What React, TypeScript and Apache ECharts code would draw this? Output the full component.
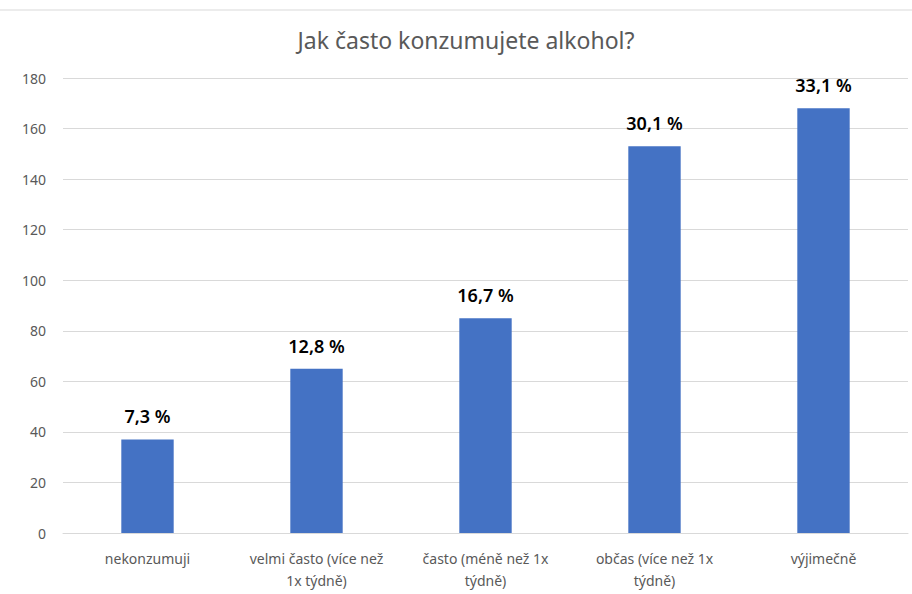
import React, { useEffect, useRef } from "react";
import * as echarts from "echarts";

const title = "Jak často konzumujete alkohol?";
const categories = [
  "nekonzumuji",
  "velmi často (více než\n1x týdně)",
  "často (méně než 1x\ntýdně)",
  "občas (více než 1x\ntýdně)",
  "výjimečně",
];
const counts = [37, 65, 85, 153, 168];
const percentLabels = ["7,3 %", "12,8 %", "16,7 %", "30,1 %", "33,1 %"];
const yMin = 0;
const yMax = 180;
const yInterval = 20;

const FONT = "'Noto Sans', 'DejaVu Sans', sans-serif";

export default function App() {
  const ref = useRef<HTMLDivElement>(null);
  useEffect(() => {
    if (!ref.current) return;
    const chart = echarts.init(ref.current, undefined, { renderer: "svg" });
    chart.setOption({
      animation: false,
      backgroundColor: "#ffffff",
      textStyle: { fontFamily: FONT },
      graphic: [
        {
          type: "line",
          shape: { x1: 0, y1: 10, x2: 912, y2: 10 },
          style: { stroke: "#d9d9d9", lineWidth: 1 },
        },
        {
          type: "text",
          x: 466,
          y: 40,
          style: {
            text: title,
            fill: "#595959",
            font: `23px ${FONT}`,
            textAlign: "center",
            textVerticalAlign: "middle",
          },
        },
      ],
      grid: { left: 63, right: 4, top: 78, bottom: 61, containLabel: false },
      xAxis: {
        type: "category",
        data: categories,
        axisLine: { show: true, lineStyle: { color: "#d9d9d9", width: 1 } },
        axisTick: { show: false },
        axisLabel: {
          color: "#595959",
          fontSize: 14,
          fontFamily: FONT,
          lineHeight: 22,
          margin: 14,
          interval: 0,
        },
      },
      yAxis: {
        type: "value",
        min: yMin,
        max: yMax,
        interval: yInterval,
        axisLine: { show: false },
        axisTick: { show: false },
        splitLine: { lineStyle: { color: "#d9d9d9", width: 1 } },
        axisLabel: {
          color: "#595959",
          fontSize: 14,
          fontFamily: FONT,
          margin: 17,
        },
      },
      series: [
        {
          type: "bar",
          data: counts,
          barWidth: "31%",
          itemStyle: { color: "#4472c4" },
          label: {
            show: true,
            position: "top",
            distance: 14,
            color: "#000000",
            fontSize: 18,
            fontWeight: 600,
            fontFamily: FONT,
            formatter: (p: any) => percentLabels[p.dataIndex],
          },
        },
      ],
    });
    return () => chart.dispose();
  }, []);
  return (
    <div
      ref={ref}
      style={{ position: "absolute", left: 0, top: 0, width: 912, height: 594 }}
    />
  );
}
